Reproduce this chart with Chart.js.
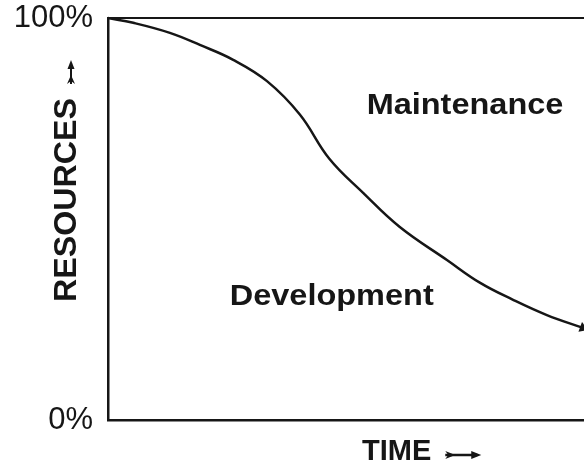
<!DOCTYPE html>
<html>
<head>
<meta charset="utf-8">
<script src="https://cdn.jsdelivr.net/npm/chart.js@4/dist/chart.umd.min.js"></script>
<style>
  html, body { margin: 0; padding: 0; background: #fff; }
  #wrap { width: 584px; height: 468px; position: relative; }
</style>
</head>
<body>
<div id="wrap"><canvas id="c" width="584" height="468"></canvas></div>
<script>
// ---- data ----
const timePct  = [0, 5.3, 13.0, 19.3, 26.3, 33.4, 40.3, 46.5, 53.6, 61.3, 71.2, 78.2, 85.1, 92.2, 99.8];
const devShare = [100, 98.8, 96.3, 93.3, 89.6, 84.3, 76.0, 65.0, 56.5, 48.0, 39.8, 34.1, 29.9, 26.1, 22.9];
const yTickValues = [0, 100];
const yTickLabels = ['0%', '100%'];
const axisTitleX = 'TIME';
const axisTitleY = 'RESOURCES';
const regionLabels = ['Maintenance', 'Development'];
const regionLabelAt = [[75, 78], [47, 30.5]];

const INK = '#161616';
Chart.defaults.font.family = '"Liberation Sans", Arial, Helvetica, sans-serif';
Chart.defaults.color = INK;

function arrowUp(ctx, x, yHead, yTail) {
  ctx.save();
  ctx.strokeStyle = INK; ctx.fillStyle = INK; ctx.lineWidth = 2;
  ctx.beginPath(); ctx.moveTo(x, yTail); ctx.lineTo(x, yHead + 4); ctx.stroke();
  ctx.beginPath(); ctx.moveTo(x, yHead); ctx.lineTo(x - 3.5, yHead + 9); ctx.lineTo(x + 3.5, yHead + 9); ctx.closePath(); ctx.fill();
  ctx.beginPath(); ctx.moveTo(x, yTail - 9); ctx.lineTo(x - 4, yTail); ctx.lineTo(x, yTail - 3); ctx.lineTo(x + 4, yTail); ctx.closePath(); ctx.fill();
  ctx.restore();
}
function arrowRight(ctx, xTail, xHead, y) {
  ctx.save();
  ctx.strokeStyle = INK; ctx.fillStyle = INK; ctx.lineWidth = 2.5;
  ctx.beginPath(); ctx.moveTo(xTail, y); ctx.lineTo(xHead - 4, y); ctx.stroke();
  ctx.beginPath(); ctx.moveTo(xHead, y); ctx.lineTo(xHead - 10, y - 4); ctx.lineTo(xHead - 10, y + 4); ctx.closePath(); ctx.fill();
  ctx.beginPath(); ctx.moveTo(xTail + 10, y); ctx.lineTo(xTail, y - 4); ctx.lineTo(xTail + 3, y); ctx.lineTo(xTail, y + 4); ctx.closePath(); ctx.fill();
  ctx.restore();
}

const labelsPlugin = {
  id: 'labels',
  afterDraw(chart) {
    const ctx = chart.ctx;
    const xs = chart.scales.x, ys = chart.scales.y, ca = chart.chartArea;
    ctx.save();
    ctx.fillStyle = INK;
    ctx.textAlign = 'center';
    ctx.textBaseline = 'middle';
    ctx.font = 'bold 29px "Liberation Sans", Arial, sans-serif';
    regionLabels.forEach((t, i) => {
      const px = xs.getPixelForValue(regionLabelAt[i][0]);
      const py = ys.getPixelForValue(regionLabelAt[i][1]);
      ctx.save(); ctx.translate(px, py); ctx.scale(1.12, 1); ctx.fillText(t, 0, 0); ctx.restore();
    });
    // x-axis title with arrow
    ctx.font = 'bold 29px "Liberation Sans", Arial, sans-serif';
    ctx.textAlign = 'left';
    const tx = 362, ty = ca.bottom + 32;
    ctx.fillText(axisTitleX, tx, ty);
    const w = ctx.measureText(axisTitleX).width;
    arrowRight(ctx, tx + w + 14, tx + w + 50, ty + 3);
    // y-axis title (rotated) with arrow
    ctx.save();
    ctx.translate(67, 200);
    ctx.rotate(-Math.PI / 2);
    ctx.textAlign = 'center';
    ctx.font = 'bold 31px "Liberation Sans", Arial, sans-serif';
    ctx.save(); ctx.scale(1.04, 1); ctx.fillText(axisTitleY, 0, 0); ctx.restore();
    ctx.restore();
    arrowUp(ctx, 71, 60, 84);
    ctx.restore();
  }
};

function noPad(s) { s.paddingTop = 0; s.paddingBottom = 0; s.paddingLeft = 0; s.paddingRight = 0; }

const n = timePct.length;
new Chart(document.getElementById('c'), {
  type: 'line',
  data: {
    datasets: [{
      data: timePct.map((x, i) => ({ x, y: devShare[i] })),
      borderColor: INK,
      backgroundColor: INK,
      borderWidth: 2.5,
      tension: 0.4,
      pointRadius: timePct.map((_, i) => i === n - 1 ? 6 : 0),
      pointStyle: 'triangle',
      rotation: 110,
      pointBorderWidth: 0,
      clip: false
    }]
  },
  options: {
    responsive: false,
    animation: false,
    events: [],
    layout: { padding: 0, autoPadding: false },
    plugins: { legend: { display: false }, tooltip: { enabled: false }, title: { display: false } },
    scales: {
      x: {
        type: 'linear', min: 0, max: 100, position: 'bottom',
        grid: { display: false, drawTicks: false },
        ticks: { display: false },
        border: { display: true, color: INK, width: 2.5 },
        afterFit(s) { s.height = 48; noPad(s); }
      },
      x2: {
        type: 'linear', min: 0, max: 100, position: 'top',
        grid: { display: false, drawTicks: false },
        ticks: { display: false },
        border: { display: true, color: INK, width: 2 },
        afterFit(s) { s.height = 18; noPad(s); }
      },
      y: {
        min: 0, max: 100,
        grid: { display: false, drawTicks: false },
        border: { display: true, color: INK, width: 2.5 },
        afterBuildTicks(s) { s.ticks = yTickValues.map(v => ({ value: v })); },
        ticks: {
          padding: 15,
          font: { size: 31 },
          color: INK,
          callback: (v) => yTickLabels[yTickValues.indexOf(v)]
        },
        afterFit(s) { s.width = 108; noPad(s); }
      }
    }
  },
  plugins: [labelsPlugin]
});
</script>
</body>
</html>
